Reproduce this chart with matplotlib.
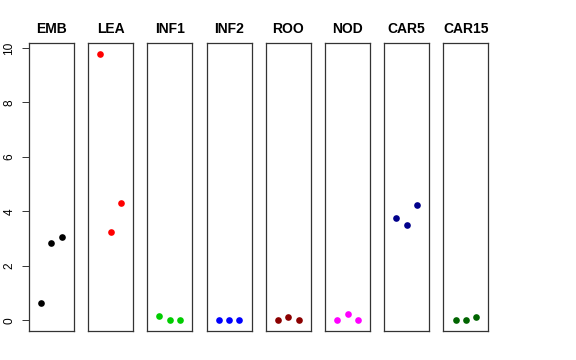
import matplotlib
matplotlib.use('Agg')
import matplotlib.pyplot as plt

plt.rcParams['font.family'] = ['Liberation Sans', 'DejaVu Sans']

# Tissue names, replicate values and colours
tissues = ['EMB', 'LEA', 'INF1', 'INF2', 'ROO', 'NOD', 'CAR5', 'CAR15']
emb = [0.65, 2.85, 3.06]
lea = [9.79, 3.24, 4.30]
inf1 = [0.16, 0.0, 0.0]
inf2 = [0.0, 0.0, 0.0]
roo = [0.01, 0.14, 0.01]
nod = [0.0, 0.23, 0.0]
car5 = [3.77, 3.49, 4.23]
car15 = [0.0, 0.0, 0.12]
values = [emb, lea, inf1, inf2, roo, nod, car5, car15]
colors = ['black', 'red', '#00CD00', 'blue', '#8B0000', 'magenta', '#00008B', '#006400']
reps = [1, 2, 3]

fig = plt.figure(figsize=(5.76, 3.6), dpi=100)

# shared y range like R: 0..max with 4% padding
ymax = max(max(v) for v in values)
pad = ymax * 0.04
ylim = (-pad, ymax + pad)

for i, (name, vals, col) in enumerate(zip(tissues, values, colors)):
    ax = fig.add_axes([0.0503 + i * 0.1028, 0.0806, 0.078, 0.8])
    ax.plot(reps, vals, 'o', color=col, markersize=4.8, markeredgewidth=0)
    ax.set_xlim(-0.16, 4.16)
    ax.set_ylim(*ylim)
    ax.set_xticks([])
    for s in ax.spines.values():
        s.set_linewidth(0.9)
        s.set_color('#333333')
    ax.set_title(name, fontsize=10, fontweight='bold', pad=7)
    if i == 0:
        ax.set_yticks([0, 2, 4, 6, 8, 10])
        ax.tick_params(axis='y', length=5.2, width=0.7, pad=4.5, labelsize=8.6,
                       labelrotation=90, color='#333333')
        for lab in ax.get_yticklabels():
            lab.set_verticalalignment('center')
    else:
        ax.set_yticks([])

fig.savefig('out.png', dpi=100)
